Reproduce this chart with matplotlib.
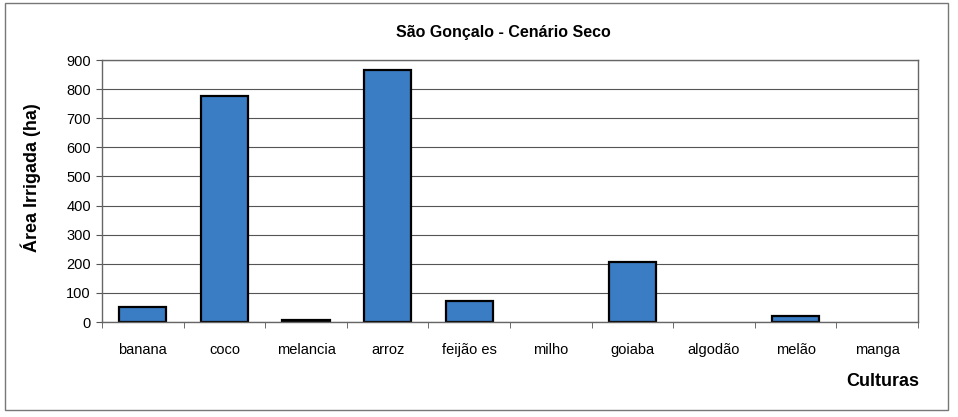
import matplotlib
matplotlib.use("Agg")
import matplotlib.pyplot as plt
from matplotlib.patches import Rectangle

plt.rcParams['font.family'] = ['Liberation Sans', 'DejaVu Sans']

culturas = ["banana", "coco", "melancia", "arroz", "feijão es", "milho",
            "goiaba", "algodão", "melão", "manga"]
area_ha = [50, 775, 7, 865, 73, 0, 205, 0, 22, 0]
y_ticks = [0, 100, 200, 300, 400, 500, 600, 700, 800, 900]

fig = plt.figure(figsize=(9.58, 4.17), dpi=100)
fig.patch.set_facecolor("white")

# outer chart frame
fig.add_artist(Rectangle((5 / 958, 1 - 410 / 417), 943 / 958, 407 / 417,
                         transform=fig.transFigure, fill=False,
                         edgecolor="#777777", linewidth=1.0))

ax = fig.add_axes([102 / 958, 1 - 322 / 417, 816 / 958, 262 / 417])
x = range(len(culturas))
bars = ax.bar(x, area_ha, width=0.58, color="#3A7DC4", edgecolor="black",
              linewidth=1.6, zorder=3)
# empty categories get no visible bar outline
for b, v in zip(bars, area_ha):
    if v == 0:
        b.set_linewidth(0)

ax.set_xlim(-0.5, len(culturas) - 0.5)
ax.set_ylim(0, 900)
ax.set_yticks(y_ticks)
ax.set_yticklabels([str(v) for v in y_ticks], fontsize=10.5)
ax.set_xticks(list(x))
ax.set_xticklabels(culturas, fontsize=10.5)
ax.tick_params(axis="x", length=0, pad=15)
ax.set_xticks([i + 0.5 for i in range(-1, len(culturas))], minor=True)
ax.tick_params(axis="x", which="minor", length=4, color="#555555")
ax.tick_params(axis="y", length=4, color="#555555", pad=4)

ax.grid(axis="y", color="#555555", linewidth=0.8, zorder=0)
for side in ["top", "right", "left", "bottom"]:
    ax.spines[side].set_color("#666666")
    ax.spines[side].set_linewidth(1.0)
ax.spines["bottom"].set_zorder(4)

fig.text(503 / 958, 1 - 32 / 417, "São Gonçalo - Cenário Seco",
         ha="center", va="center", fontsize=11.5, fontweight="bold")
fig.text(31 / 958, 1 - 178 / 417, "Área Irrigada (ha)", rotation=90,
         ha="center", va="center", fontsize=13, fontweight="bold")
fig.text(919 / 958, 1 - 382 / 417, "Culturas", ha="right", va="center",
         fontsize=13, fontweight="bold")

fig.savefig("out.png", dpi=100, facecolor="white")
